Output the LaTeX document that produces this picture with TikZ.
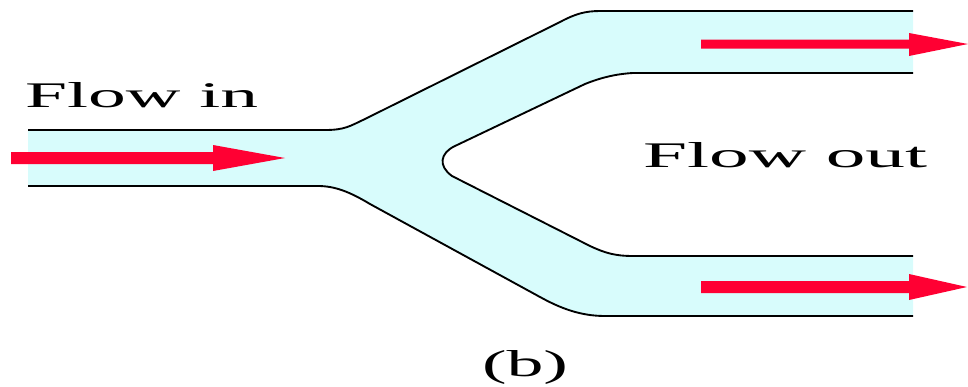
\documentclass[tikz,border=0pt]{standalone}
\usepackage{fontspec}
\setmainfont{Liberation Serif}
\usepackage{graphicx}
\definecolor{pipecyan}{RGB}{216,252,252}
\definecolor{flowred}{RGB}{255,0,51}
\tikzset{
  pipefill/.style={fill=pipecyan, draw=none},
  wall/.style={draw=black, line width=1.6pt, line join=round},
  flowarrow/.style={fill=flowred, draw=none},
  label/.style={inner sep=0pt, outer sep=0pt, anchor=base west, text=black}
}
\begin{document}
\begin{tikzpicture}[x=0.03cm, y=-0.03cm]
\useasboundingbox (0,0) rectangle (968,386);
% liquid region
\path[pipefill] (28,130) -- (325,130) .. controls (345,130) and (350,126) .. (365,119)
  -- (560,22) .. controls (575,14) and (585,11) .. (600,11) -- (913,11)
  -- (913,73) -- (633,73) .. controls (615,74) and (600,78) .. (585,84)
  -- (455,146) .. controls (440,153) and (438,166) .. (452,176)
  -- (590,246) .. controls (605,253) and (615,256) .. (633,256) -- (913,256)
  -- (913,316) -- (605,316) .. controls (580,316) and (560,308) .. (540,297)
  -- (370,204) .. controls (350,192) and (335,186) .. (318,186) -- (28,186) -- cycle;
% walls
\draw[wall] (28,130) -- (325,130) .. controls (345,130) and (350,126) .. (365,119)
  -- (560,22) .. controls (575,14) and (585,11) .. (600,11) -- (913,11);
\draw[wall] (913,73) -- (633,73) .. controls (615,74) and (600,78) .. (585,84)
  -- (455,146) .. controls (440,153) and (438,166) .. (452,176)
  -- (590,246) .. controls (605,253) and (615,256) .. (633,256) -- (913,256);
\draw[wall] (913,316) -- (605,316) .. controls (580,316) and (560,308) .. (540,297)
  -- (370,204) .. controls (350,192) and (335,186) .. (318,186) -- (28,186);
% arrows
\fill[flowarrow] (11,152) -- (213,152) -- (213,145) -- (285,158) -- (213,171) -- (213,164) -- (11,164) -- cycle;
\fill[flowarrow] (701,39.5) -- (909,39.5) -- (909,33) -- (968,44) -- (909,56) -- (909,48.5) -- (701,48.5) -- cycle;
\fill[flowarrow] (701,281) -- (909,281) -- (909,274) -- (967,287) -- (909,300) -- (909,293) -- (701,293) -- cycle;
% labels
\node[label] (flowin) at (25,107) {\resizebox{6.99cm}{0.75cm}{Flow in}};
\node[label] (flowout) at (643,167) {\resizebox{8.52cm}{0.75cm}{Flow out}};
\node[label] (caption) at (482,376) {\resizebox{2.58cm}{0.78cm}{(b)}};
\end{tikzpicture}
\end{document}
